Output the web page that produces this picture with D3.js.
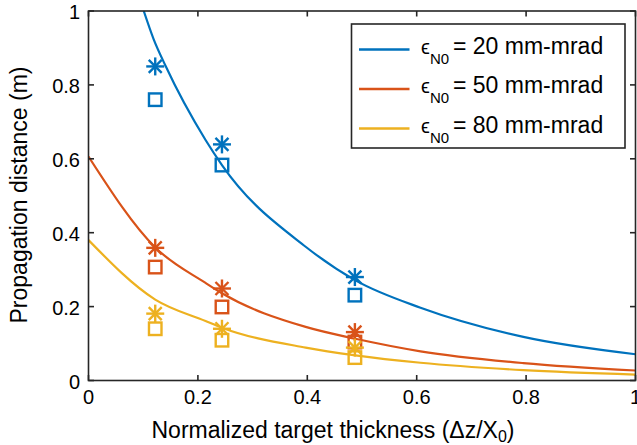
<!DOCTYPE html>
<html>
<head>
<meta charset="utf-8">
<script src="https://cdn.jsdelivr.net/npm/d3@7"></script>
<style>
  html, body { margin: 0; padding: 0; background: #fff; }
  svg { display: block; font-family: "Liberation Sans", Arial, Helvetica, sans-serif; }
</style>
</head>
<body>
<svg id="chart" width="637" height="445"></svg>
<script>
// ---- data ----
const xTicks = [0, 0.2, 0.4, 0.6, 0.8, 1];
const yTicks = [0, 0.2, 0.4, 0.6, 0.8, 1];
const xTickLabels = ["0", "0.2", "0.4", "0.6", "0.8", "1"];
const yTickLabels = ["0", "0.2", "0.4", "0.6", "0.8", "1"];

const seriesNames = ["20", "50", "80"];
const seriesColors = ["#0072BD", "#D95319", "#EDB120"];

// model curves
const curve20 = [[0.101,1.0],[0.119,0.924],[0.141,0.851],[0.214,0.651],[0.244,0.583],[0.397,0.362],[0.488,0.271],[0.607,0.197],[0.795,0.118],[1.0,0.071]];
const curve50 = [[0,0.606],[0.122,0.360],[0.214,0.264],[0.244,0.236],[0.397,0.145],[0.488,0.113],[0.607,0.079],[0.795,0.047],[1.0,0.027]];
const curve80 = [[0,0.380],[0.122,0.219],[0.214,0.161],[0.244,0.143],[0.397,0.089],[0.488,0.068],[0.607,0.048],[0.795,0.028],[1.0,0.016]];

// measured points
const xPoints = [0.122, 0.244, 0.487];
const star20 = [0.85, 0.639, 0.28];
const square20 = [0.76, 0.583, 0.231];
const star50 = [0.359, 0.249, 0.131];
const square50 = [0.307, 0.199, 0.104];
const star80 = [0.181, 0.14, 0.089];
const square80 = [0.14, 0.109, 0.062];

// ---- layout ----
const svg = d3.select("#chart");
const pL = 88.5, pR = 635.5, pT = 11, pB = 380.5;
const x = d3.scaleLinear().domain([0, 1]).range([pL, pR]);
const y = d3.scaleLinear().domain([0, 1]).range([pB, pT]);
const axisColor = "#262626";

const curves = [curve20, curve50, curve80];
const stars = [star20, star50, star80];
const squares = [square20, square50, square80];

svg.append("defs").append("clipPath").attr("id", "plotclip")
  .append("rect").attr("x", pL).attr("y", pT).attr("width", pR - pL).attr("height", pB - pT);

const plot = svg.append("g").attr("clip-path", "url(#plotclip)");
const line = d3.line().x(d => x(d[0])).y(d => y(d[1])).curve(d3.curveMonotoneX);

curves.forEach((c, i) => {
  plot.append("path").datum(c).attr("d", line)
    .attr("fill", "none").attr("stroke", seriesColors[i]).attr("stroke-width", 2.2);
});

// markers
const marks = svg.append("g");
function drawStar(g, cx, cy, col) {
  const r = 9, d = 6.5;
  const segs = [[0,-r,0,r],[-r,0,r,0],[-d,-d,d,d],[-d,d,d,-d]];
  segs.forEach(s => g.append("line")
    .attr("x1", cx + s[0]).attr("y1", cy + s[1]).attr("x2", cx + s[2]).attr("y2", cy + s[3])
    .attr("stroke", col).attr("stroke-width", 2.4));
}
seriesNames.forEach((n, i) => {
  xPoints.forEach((xv, j) => {
    drawStar(marks, x(xv), y(stars[i][j]), seriesColors[i]);
    const s = 12.5;
    marks.append("rect")
      .attr("x", x(xv) - s / 2).attr("y", y(squares[i][j]) - s / 2)
      .attr("width", s).attr("height", s)
      .attr("fill", "none").attr("stroke", seriesColors[i]).attr("stroke-width", 2.4);
  });
});

// axes box and ticks
const ax = svg.append("g");
ax.append("rect").attr("x", pL).attr("y", pT).attr("width", pR - pL).attr("height", pB - pT)
  .attr("fill", "none").attr("stroke", axisColor).attr("stroke-width", 1.6);
const tl = 5.5;
xTicks.forEach((t, i) => {
  const px = x(t);
  ax.append("line").attr("x1", px).attr("x2", px).attr("y1", pB).attr("y2", pB - tl).attr("stroke", axisColor).attr("stroke-width", 1.6);
  ax.append("line").attr("x1", px).attr("x2", px).attr("y1", pT).attr("y2", pT + tl).attr("stroke", axisColor).attr("stroke-width", 1.6);
  ax.append("text").attr("x", px).attr("y", 404).attr("text-anchor", "middle")
    .attr("font-size", 20).attr("fill", "#000").text(xTickLabels[i]);
});
yTicks.forEach((t, i) => {
  const py = y(t);
  ax.append("line").attr("x1", pL).attr("x2", pL + tl).attr("y1", py).attr("y2", py).attr("stroke", axisColor).attr("stroke-width", 1.6);
  ax.append("line").attr("x1", pR).attr("x2", pR - tl).attr("y1", py).attr("y2", py).attr("stroke", axisColor).attr("stroke-width", 1.6);
  ax.append("text").attr("x", 80).attr("y", py + 8).attr("text-anchor", "end")
    .attr("font-size", 20).attr("fill", "#000").text(yTickLabels[i]);
});

// axis titles
const xt = svg.append("text").attr("x", 333).attr("y", 438).attr("text-anchor", "middle")
  .attr("font-size", 23).attr("fill", "#000");
xt.append("tspan").text("Normalized target thickness (Δz/X");
xt.append("tspan").attr("font-size", 16).attr("dy", 4).text("0");
xt.append("tspan").attr("dy", -4).text(")");

svg.append("text").attr("transform", "translate(27,195) rotate(-90)").attr("text-anchor", "middle")
  .attr("font-size", 23).attr("fill", "#000").text("Propagation distance (m)");

// legend
const lg = svg.append("g");
lg.append("rect").attr("x", 351.5).attr("y", 24).attr("width", 273.5).attr("height", 124)
  .attr("fill", "#fff").attr("stroke", axisColor).attr("stroke-width", 1.6);
const rowY = [49.5, 89, 128.5];
seriesNames.forEach((n, i) => {
  lg.append("line").attr("x1", 359).attr("x2", 409.5).attr("y1", rowY[i]).attr("y2", rowY[i])
    .attr("stroke", seriesColors[i]).attr("stroke-width", 2.4);
  const t = lg.append("text").attr("y", rowY[i] + 4).attr("font-size", 23).attr("fill", "#000");
  t.append("tspan").attr("x", 421).attr("font-size", 20).text("ϵ");
  t.append("tspan").attr("x", 430).attr("dy", 10).attr("font-size", 15).text("N0");
  t.append("tspan").attr("x", 453).attr("dy", -10).text("= " + n + " mm-mrad");
});
</script>
</body>
</html>
